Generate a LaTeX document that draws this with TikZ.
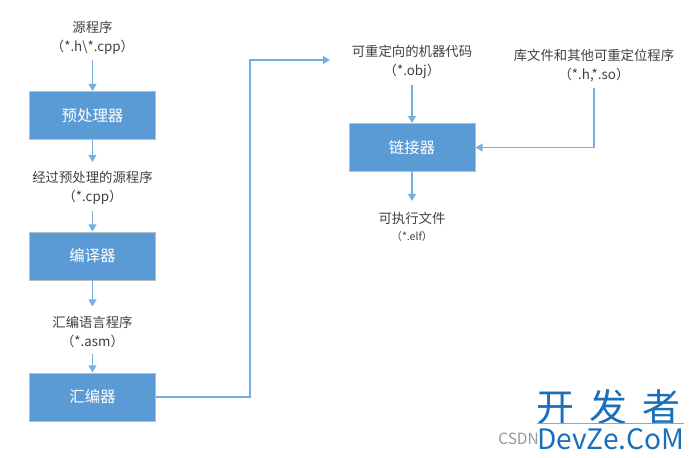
\documentclass[tikz,border=0pt]{standalone}
\usepackage{fontspec}
\setmainfont{Noto Sans CJK SC}
\usetikzlibrary{arrows.meta,positioning,calc}
\definecolor{boxblue}{HTML}{5B9BD5}
\definecolor{boxedge}{HTML}{B4BFC9}
\definecolor{linkblue}{HTML}{76AEE0}
\definecolor{wmblue}{HTML}{1A6FBA}

\begin{document}
\begin{tikzpicture}[
    x=0.025cm, y=-0.025cm,
    stage/.style={rectangle, draw=boxedge, fill=boxblue, text=white, minimum width=3.16cm, minimum height=1.21cm, inner sep=0pt, font=\fontsize{11}{13}\selectfont},
    lbl/.style={align=center, inner sep=0pt, text=black!75, font=\fontsize{9.5}{13.5}\selectfont},
    arrow/.style={-{Triangle[length=5pt,width=5.5pt]},linkblue,line width=1pt}
]
\useasboundingbox (0,0) rectangle (692,458);

% Left column
\node[lbl] (source) at (92.5,37.5) {源程序\\（*.h\textbackslash *.cpp）};
\node[stage] (prep) at (92.5,115.5) {预处理器};
\node[lbl] (prepout) at (92.5,188) {经过预处理的源程序\\（*.cpp）};
\node[stage] (comp) at (92.5,256) {编译器};
\node[lbl] (asmsrc) at (92.5,332) {汇编语言程序\\（*.asm）};
\node[stage] (asmb) at (92.5,397) {汇编器};

% Right column
\node[lbl] (objcode) at (412,61.5) {可重定向的机器代码\\（*.obj）};
\node[lbl] (libs) at (594,65.5) {库文件和其他可重定位程序\\（*.h,*.so）};
\node[stage] (linker) at (412,147.5) {链接器};
\node[lbl, font=\fontsize{9.5}{12}\selectfont] (elf) at (412,227) {可执行文件\\{\fontsize{7.5}{9}\selectfont（*.elf）}};
\coordinate (objin) at (330,60);

% Arrows
\draw[arrow] ([yshift=-0.15cm]source.south) -- (prep.north);
\draw[arrow] (prep.south) -- ($(prep.south)+(0,22)$);
\draw[arrow] ([yshift=-0.15cm]prepout.south) -- (comp.north);
\draw[arrow] (comp.south) -- ($(comp.south)+(0,26)$);
\draw[arrow] ([yshift=-0.15cm]asmsrc.south) -- (asmb.north);
\draw[arrow] (asmb.east) -| (250,60) -- (objin);
\draw[arrow] ([yshift=-0.15cm]objcode.south) -- (linker.north);
\draw[arrow] ([yshift=-0.15cm]libs.south) |- (linker.east);
\draw[arrow] (linker.south) -- ($(linker.south)+(0,29)$);

% Watermark
\node[inner sep=0pt, anchor=west, text=black!40, font=\fontsize{11}{13}\selectfont] (csdn) at (498,439) {CSDN};
\node[inner sep=0pt, text=wmblue, font=\fontsize{27}{30}\selectfont] (wmtitle) at (608.5,407) {开\hspace{0.4em}发\hspace{0.4em}者};
\node[inner sep=0pt, anchor=west, text=wmblue, font=\fontsize{20}{22}\selectfont] (wmsite) at (537,439) {DevZe.CoM};
\draw[linkblue, line width=0.5pt] ([yshift=0.12cm]wmsite.north west) -- ([yshift=0.12cm]wmsite.north east);
\end{tikzpicture}
\end{document}
